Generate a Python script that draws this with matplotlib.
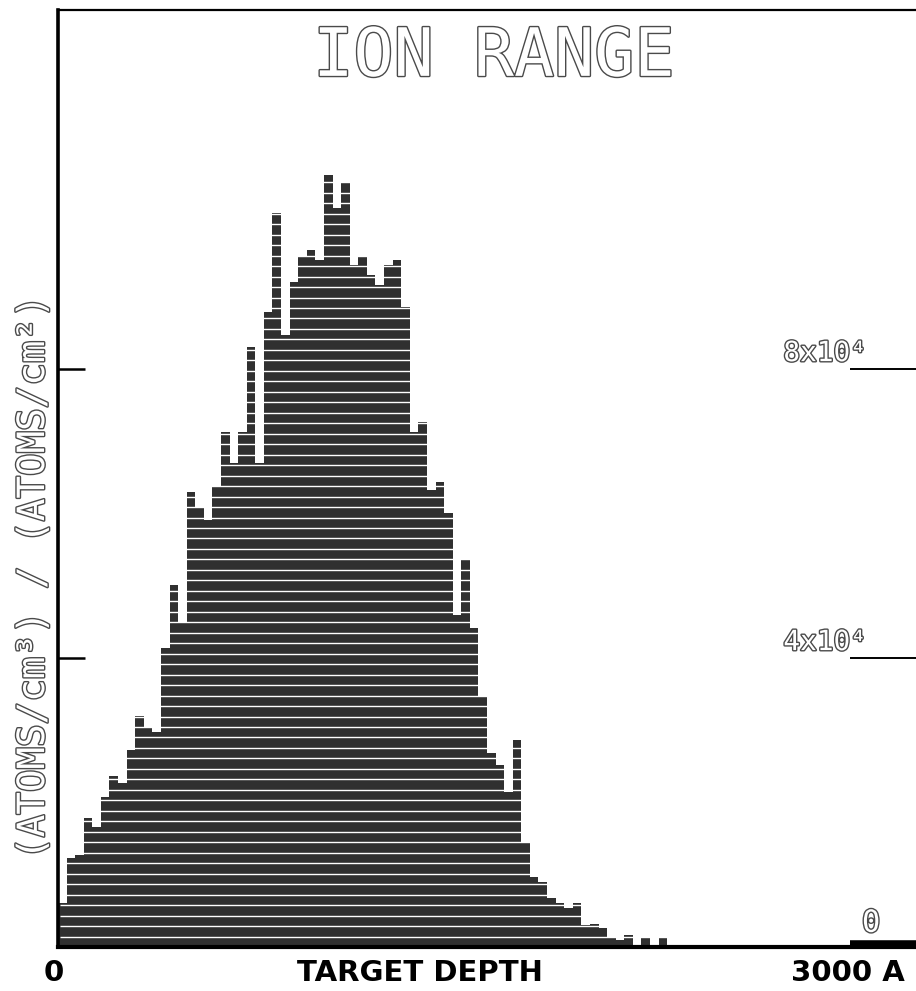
import numpy as np
import matplotlib.pyplot as plt
from matplotlib import patheffects

# ion range histogram, 30 A bins starting at the surface
bin_width = 30
ion_counts = [6100, 12300, 12700, 17900, 16600, 20800, 23700, 22700, 27300, 32000,
              30300, 29800, 41400, 50100, 44800, 63000, 60900, 59100, 63700, 71300,
              67000, 71300, 83000, 67000, 87900, 101600, 84700, 92000, 95500, 96500,
              95100, 106900, 102300, 105700, 94400, 95600, 93000, 91600, 94400, 95100,
              88600, 71300, 72700, 63300, 64400, 60100, 46000, 53600, 44200, 34600,
              26900, 25200, 21500, 28700, 14400, 9700, 9000, 6800, 6100, 5400,
              6100, 3000, 3200, 2600, 1400, 1000, 1700, 0, 1400, 0, 1400]
depth_max = 3000
y_max = 129700
tick_values = [0, 40000, 80000]
tick_labels = ["0", "4x10⁴", "8x10⁴"]
row_height = 1450   # one printer row

depth = np.arange(len(ion_counts)) * bin_width

fig = plt.figure(figsize=(9.16, 9.91), dpi=100)
ax = fig.add_axes([58 / 916, 44 / 991, 858 / 916, 937 / 991])

ax.bar(depth, ion_counts, width=bin_width, align='edge', color='#303030',
       linewidth=0, zorder=2)

# white gaps between printer rows
rows = np.arange(row_height, max(ion_counts), row_height)
ax.hlines(rows, 8, len(ion_counts) * bin_width, colors='white', linewidth=1.0,
          zorder=3)

ax.set_xlim(0, depth_max)
ax.set_ylim(0, y_max)
ax.set_xticks([])
ax.set_yticks([])

for side in ['left', 'top', 'bottom']:
    ax.spines[side].set_zorder(5)
ax.spines['left'].set_linewidth(2.6)
ax.spines['top'].set_linewidth(1.6)
ax.spines['bottom'].set_linewidth(3.0)
ax.spines['right'].set_visible(False)

# tick marks: short ones on the left, long ones on the right
ax.hlines(tick_values[1:], 0, 95, colors='black', linewidth=1.8, zorder=4)
ax.hlines(tick_values[1:], 2770, depth_max, colors='black', linewidth=1.4, zorder=4)
ax.hlines(600, 2770, depth_max, colors='black', linewidth=4, zorder=4)

hollow = [patheffects.Stroke(linewidth=2.0, foreground='#4a4a4a'),
          patheffects.Normal()]
mono = 'DejaVu Sans Mono'

for v, lab in zip(tick_values, tick_labels):
    if v == 0:
        ax.text(2843, 2100, lab, ha='center', va='baseline', fontsize=22,
                family=mono, color='white', path_effects=hollow)
    else:
        ax.text(2829, v + 1100, lab, ha='right', va='baseline', fontsize=20,
                family=mono, color='white', path_effects=hollow)

ax.text(0.508, 0.950, "ION RANGE", transform=ax.transAxes, ha='center',
        va='center', fontsize=48, family=mono, color='white', path_effects=hollow)

fig.text(34 / 916, 1 - 577 / 991, "(ATOMS/cm³) / (ATOMS/cm²)", rotation=90,
         ha='center', va='center', fontsize=27, family=mono, color='white',
         path_effects=hollow)

bold = dict(fontsize=21, family='DejaVu Sans', fontweight='bold',
            color='black', va='center')
fig.text(54 / 916, 1 - 973 / 991, "0", ha='center', **bold)
fig.text(297 / 916, 1 - 973 / 991, "TARGET DEPTH", ha='left', **bold)
fig.text(905 / 916, 1 - 973 / 991, "3000 A", ha='right', **bold)

fig.savefig('out.png', dpi=100)
